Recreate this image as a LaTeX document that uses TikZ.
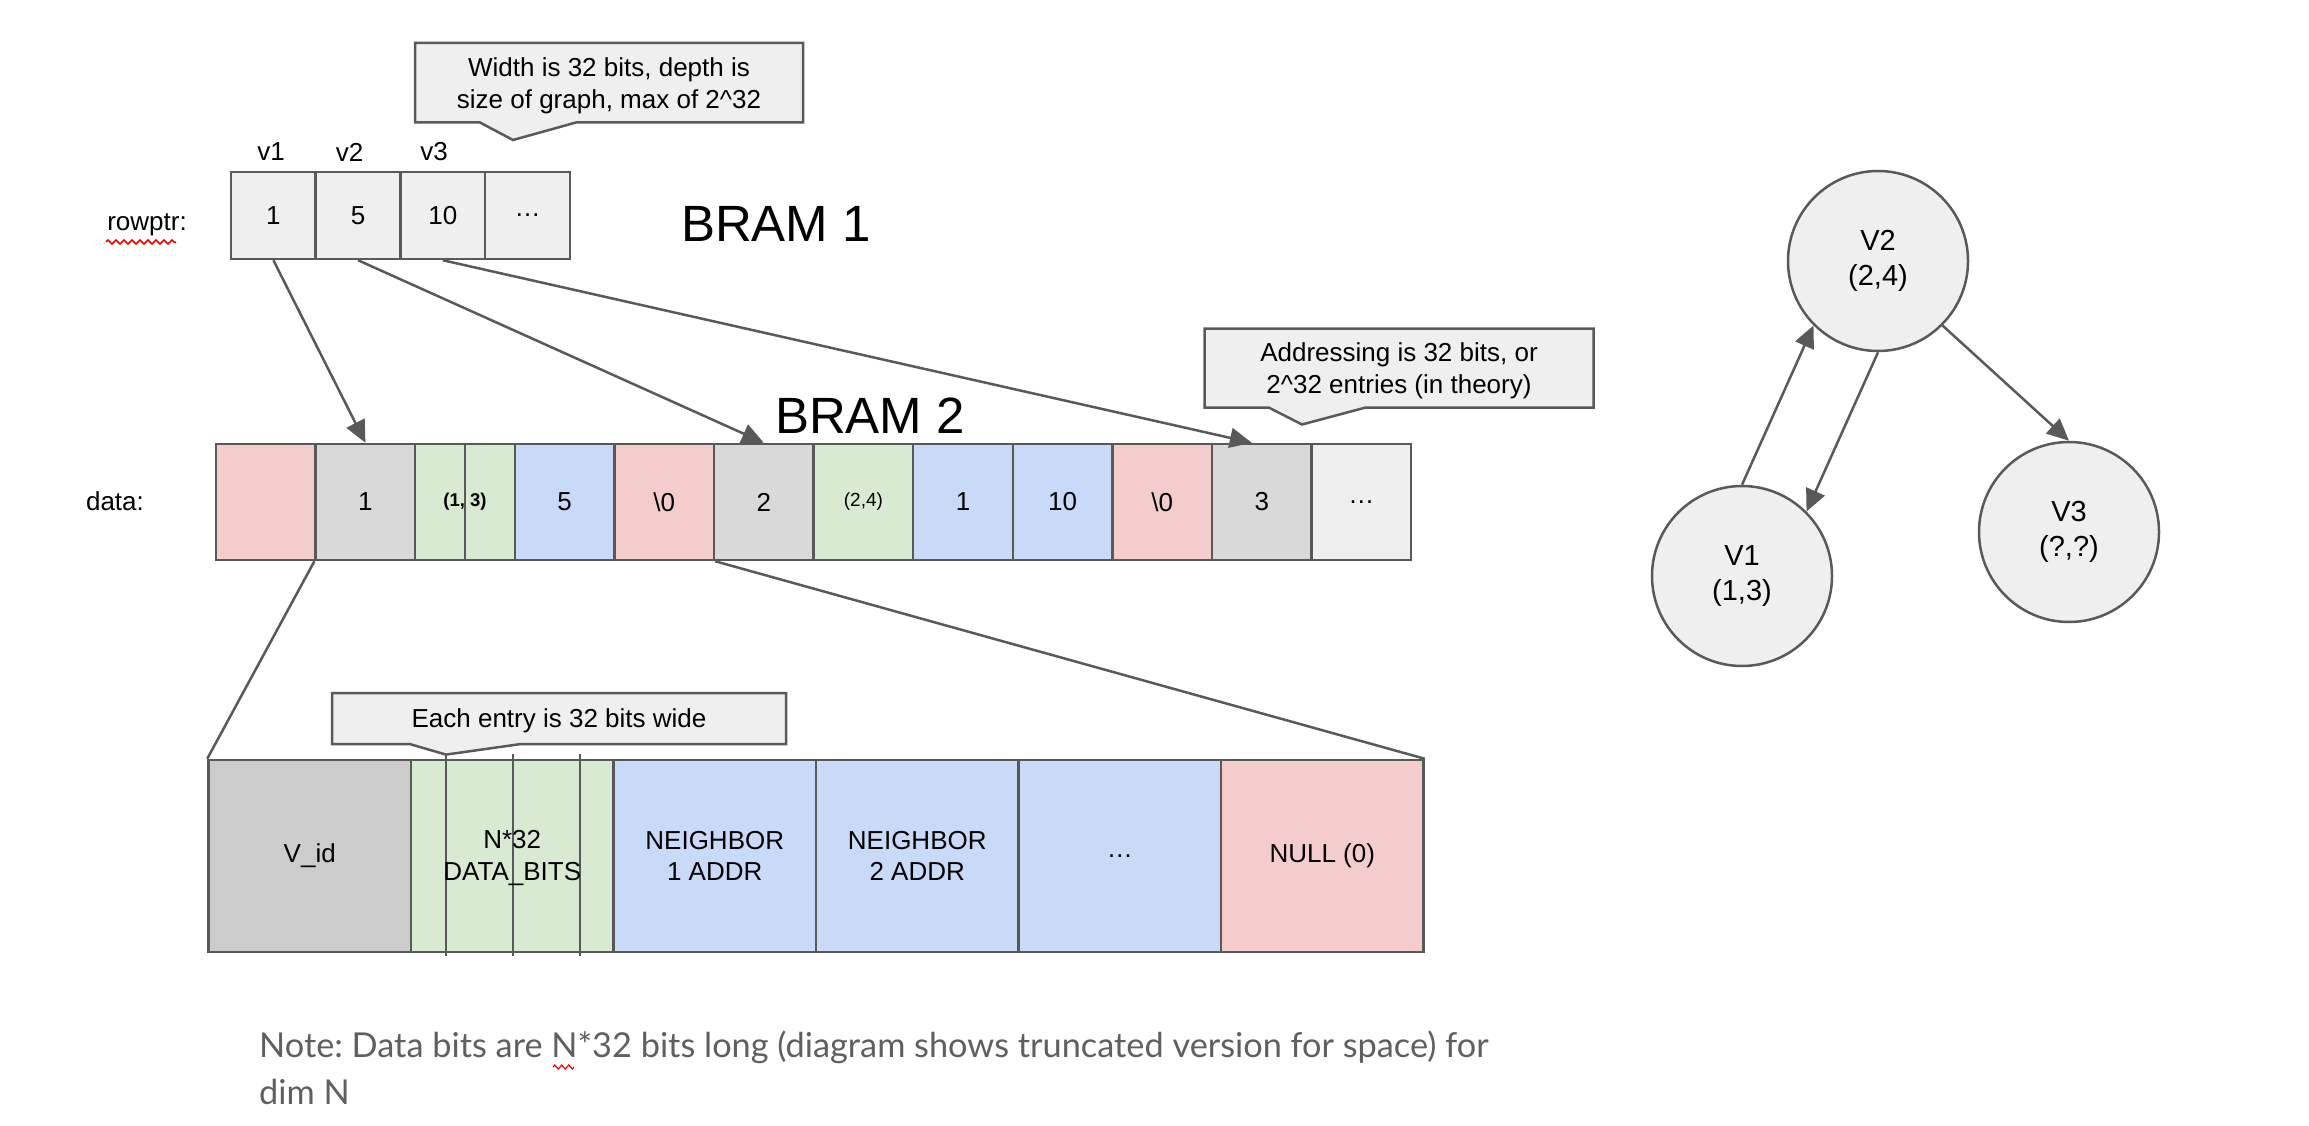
\documentclass[tikz,border=0pt]{standalone}
\usepackage{fontspec}
\setmainfont{Liberation Sans}
\newfontfamily\latofont{Lato}
\usetikzlibrary{arrows.meta,positioning,decorations.pathmorphing}
\frenchspacing

\definecolor{linec}{HTML}{595959}
\definecolor{pinkc}{HTML}{F4CCCC}
\definecolor{grayc}{HTML}{D9D9D9}
\definecolor{greenc}{HTML}{D9EAD3}
\definecolor{bluec}{HTML}{C9DAF8}
\definecolor{lightc}{HTML}{EFEFEF}
\definecolor{vidc}{HTML}{CCCCCC}
\definecolor{notec}{HTML}{5F5F5F}

\tikzset{
  plain/.style={font=\fontsize{26}{31.6}\selectfont, align=center},
  cell/.style={plain, draw=linec, line width=2.5, minimum width=99.6, minimum height=116, inner sep=0pt},
  ptrcell/.style={cell, fill=lightc, minimum width=84.75, minimum height=87},
  wide/.style={cell, minimum width=202.5, minimum height=192},
  vertex/.style={circle, draw=linec, line width=2.5, fill=lightc, minimum size=180, inner sep=0pt,
    align=center, font=\fontsize{29}{34.5}\selectfont},
  link/.style={draw=linec, line width=2.5, -{Triangle[length=22pt,width=20pt]}},
  callbox/.style={draw=linec, line width=2.5, fill=lightc},
  squiggle/.style={draw=red, line width=1.5, decorate, decoration={zigzag, segment length=8, amplitude=2}}
}

\begin{document}
\begin{tikzpicture}[x=1pt, y=-1pt]
  \useasboundingbox (0,0) rectangle (2309,1126);

  % BRAM 1: rowptr
  \node[plain] (rowlbl) at (147,225) {rowptr:};
  \draw[squiggle] (106,242) -- (176,242);
  \node[ptrcell] (r1) at (273.4,215.5) {1};
  \node[ptrcell] (r2) at (358.1,215.5) {5};
  \node[ptrcell] (r3) at (442.9,215.5) {10};
  \node[ptrcell] (r4) at (527.6,215.5) {…};
  \node[plain] (v1lbl) at (271,152) {v1};
  \node[plain] (v2lbl) at (349.5,152) {v2};
  \node[plain] (v3lbl) at (434,152) {v3};
  \node[font=\fontsize{51}{60}\selectfont] (bram1) at (776,224) {BRAM 1};

  \filldraw[callbox] (415,43) -- (803,43) -- (803,122.5) -- (576,122.5) -- (513,140)
    -- (480,122.5) -- (415,122.5) -- cycle;
  \node[plain] (widthnote) at (609,86) {Width is 32 bits, depth is\\size of graph, max of 2\textasciicircum 32};

  % BRAM 2: data
  \node[plain] (datalbl) at (115,501) {data:};
  \foreach \i/\f/\t in {1/pinkc/{}, 2/grayc/1, 3/greenc/{\fontsize{18.5}{22}\selectfont\bfseries (1, 3)},
      4/bluec/5, 5/pinkc/{\textbackslash 0}, 6/grayc/2, 7/greenc/{\fontsize{19}{22}\selectfont (2,4)},
      8/bluec/1, 9/bluec/10, 10/pinkc/{\textbackslash 0}, 11/grayc/3, 12/lightc/…}
    \node[cell, fill=\f] (d\i) at ({216+99.6*(\i-0.5)},502) {\t};
  \draw[linec, line width=2.5] (d3.north) -- (d3.south);
  \node[font=\fontsize{51}{60}\selectfont] (bram2) at (870,416) {BRAM 2};

  \filldraw[callbox] (1204.5,328.5) -- (1593.5,328.5) -- (1593.5,407.7) -- (1365,407.7) -- (1302,424.5)
    -- (1269,407.7) -- (1204.5,407.7) -- cycle;
  \node[plain] (addrnote) at (1399,371) {Addressing is 32 bits, or\\2\textasciicircum 32 entries (in theory)};

  \draw[link] (r1.south) -- (d2.north);
  \draw[link] (r2.south) -- (d6.north);
  \draw[link] (r3.south) -- ([xshift=-10pt]d11.north);

  % one entry, zoomed
  \filldraw[callbox] (332,693) -- (786,693) -- (786,744) -- (521,744) -- (446,754.6)
    -- (409.5,744) -- (332,744) -- cycle;
  \node[plain] (entrynote) at (559,721) {Each entry is 32 bits wide};

  \node[wide, fill=vidc]   (e1) at (309.75,856) {V\_id};
  \node[wide, fill=greenc] (e2) at (512.25,856) {};
  \foreach \x in {446,513,580}
    \draw[linec, line width=2.5] (\x,754) -- (\x,956);
  \node[plain] (e2txt) at (512.25,858) {N*32\\DATA\_BITS};
  \node[wide, fill=bluec]  (e3) at (714.75,856) {NEIGHBOR\\1 ADDR};
  \node[wide, fill=bluec]  (e4) at (917.25,856) {NEIGHBOR\\2 ADDR};
  \node[wide, fill=bluec]  (e5) at (1119.75,856) {…};
  \node[wide, fill=pinkc]  (e6) at (1322.25,856) {NULL (0)};

  \draw[linec, line width=2.5] (d2.south west) -- (e1.north west);
  \draw[linec, line width=2.5] (d5.south east) -- (e6.north east);

  % graph
  \node[vertex] (v2) at (1878,261) {V2\\(2,4)};
  \node[vertex] (v1) at (1742,576) {V1\\(1,3)};
  \node[vertex] (v3) at (2069,532) {V3\\(?,?)};
  \draw[link] (v1.north) -- (v2.225);
  \draw[link] (v2.south) -- (v1.45);
  \draw[link] (v2.-45) -- (v3.north);

  % note
  \node[anchor=north west, inner sep=0pt, align=left, text=notec,
    font=\latofont\fontsize{34.3}{47}\selectfont] (note) at (259,1031)
    {Note: Data bits are N*32 bits long (diagram shows truncated version for space) for\\dim N};
  \draw[squiggle, line width=1.2, decoration={zigzag, segment length=7, amplitude=2}] (553,1067) -- (574,1067);
\end{tikzpicture}
\end{document}
